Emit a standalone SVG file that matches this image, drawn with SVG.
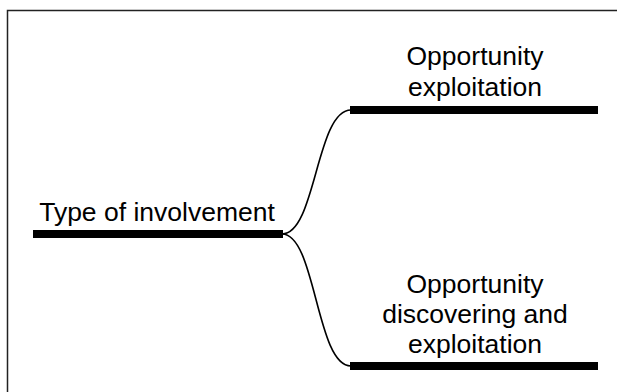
<svg xmlns="http://www.w3.org/2000/svg" width="617" height="392" viewBox="0 0 617 392">
<style>
.bar{fill:#000}
.lbl{font-family:"Liberation Sans",Arial,sans-serif;font-size:26.5px;fill:#000;text-anchor:middle}
.con{fill:none;stroke:#000;stroke-width:1.6}
</style>
<rect x="0" y="0" width="617" height="392" fill="#fff"/>
<path d="M7.5,400 V10.5 H620" fill="none" stroke="#222" stroke-width="1.5"/>
<g id="node-root">
<rect class="bar" x="33" y="230" width="250" height="8"/>
<text class="lbl" x="157" y="221">Type of involvement</text>
</g>
<g id="node-exploitation">
<rect class="bar" x="350" y="106" width="248" height="8"/>
<text class="lbl" x="475" y="65">Opportunity</text>
<text class="lbl" x="475" y="96">exploitation</text>
</g>
<g id="node-discovering">
<rect class="bar" x="350" y="362" width="248" height="8"/>
<text class="lbl" x="475" y="293">Opportunity</text>
<text class="lbl" x="475" y="323">discovering and</text>
<text class="lbl" x="475" y="353">exploitation</text>
</g>
<g id="connectors">
<path class="con" d="M282,234 C316,234 316,110 351,110"/>
<path class="con" d="M282,234 C316,234 316,366 351,366"/>
</g>
</svg>
